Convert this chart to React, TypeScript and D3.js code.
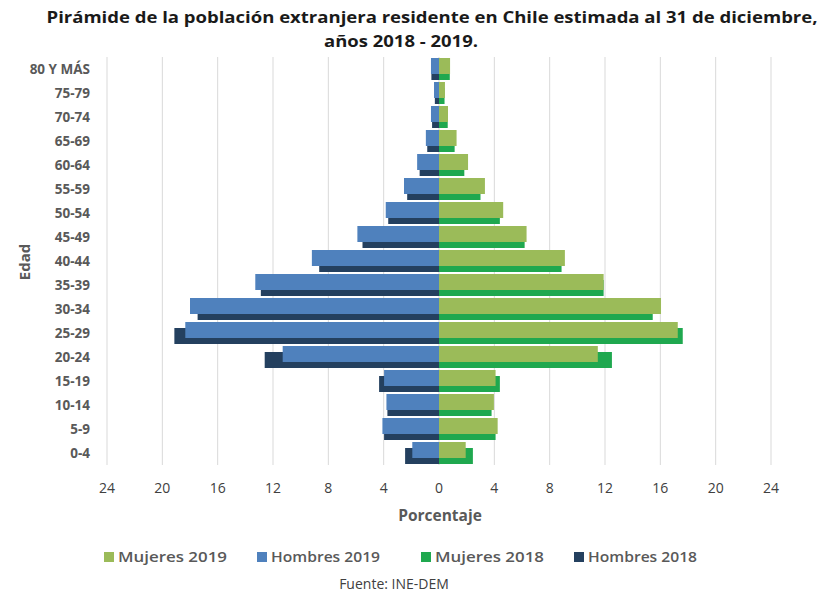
import React from "react";
import * as d3 from "d3";

const categories = ["80 Y MÁS","75-79","70-74","65-69","60-64","55-59","50-54","45-49","40-44","35-39","30-34","25-29","20-24","15-19","10-14","5-9","0-4"];
const hombres2019 = [0.58,0.36,0.58,0.95,1.58,2.53,3.85,5.9,9.19,13.28,18.0,18.34,11.3,3.97,3.8,4.09,1.93];
const hombres2018 = [0.55,0.3,0.5,0.85,1.4,2.3,3.67,5.53,8.66,12.88,17.45,19.13,12.6,4.33,3.73,3.97,2.45];
const mujeres2019 = [0.8,0.43,0.65,1.27,2.1,3.32,4.64,6.33,9.1,11.9,16.05,17.26,11.48,4.09,3.97,4.24,1.93];
const mujeres2018 = [0.78,0.4,0.63,1.13,1.83,3.0,4.4,6.19,8.86,11.9,15.45,17.62,12.5,4.4,3.8,4.09,2.45];
const ticks = [-24,-20,-16,-12,-8,-4,0,4,8,12,16,20,24];
const legendItems = [
  { label: "Mujeres 2019", color: "#9bbb59" },
  { label: "Hombres 2019", color: "#4f81bd" },
  { label: "Mujeres 2018", color: "#1fa84f" },
  { label: "Hombres 2018", color: "#24405f" },
];

const W = 825, H = 594;
const FONT = "'Open Sans', sans-serif";

export default function App() {
  const x = d3.scaleLinear().domain([-24, 24]).range([107, 771]);
  const y = d3.scaleBand().domain(categories).range([57, 465]).paddingInner(0);
  const barH = 16;
  const off2019 = 1, off2018 = 7;

  const bars: any[] = [];
  categories.forEach((c, i) => {
    const b = y(c)!;
    bars.push(<rect key={"h18"+i} x={x(-hombres2018[i])} y={b+off2018} width={x(0)-x(-hombres2018[i])} height={barH} fill="#24405f" />);
    bars.push(<rect key={"m18"+i} x={x(0)} y={b+off2018} width={x(mujeres2018[i])-x(0)} height={barH} fill="#1fa84f" />);
    bars.push(<rect key={"h19"+i} x={x(-hombres2019[i])} y={b+off2019} width={x(0)-x(-hombres2019[i])} height={barH} fill="#4f81bd" />);
    bars.push(<rect key={"m19"+i} x={x(0)} y={b+off2019} width={x(mujeres2019[i])-x(0)} height={barH} fill="#9bbb59" />);
  });

  const legendX = [104, 257, 421, 574];

  return (
    <svg width={W} height={H} style={{ position: "absolute", left: 0, top: 0, background: "#fff" }} fontFamily={FONT}>
      <rect x={0} y={0} width={W} height={H} fill="#fff" />
      <text x={432} y={23} textAnchor="middle" fontSize={15.5} fontWeight="bold" fill="#1a1a1a" textLength={771} lengthAdjust="spacingAndGlyphs">Pirámide de la población extranjera residente en Chile estimada al 31 de diciembre,</text>
      <text x={401} y={47} textAnchor="middle" fontSize={15.5} fontWeight="bold" fill="#1a1a1a" textLength={154} lengthAdjust="spacingAndGlyphs">años 2018 - 2019.</text>
      {ticks.map(t => (
        <line key={"g"+t} x1={x(t)} x2={x(t)} y1={57} y2={465} stroke="#d9d9d9" strokeWidth={1} />
      ))}
      {bars}
      {categories.map(c => (
        <text key={"l"+c} x={90} y={y(c)! + y.bandwidth()/2 + 5} textAnchor="end" fontSize={13.5} fontWeight="bold" fill="#595959">{c}</text>
      ))}
      <text transform={`translate(30,262) rotate(-90)`} textAnchor="middle" fontSize={15} fontWeight="bold" fill="#595959">Edad</text>
      {ticks.map(t => (
        <text key={"t"+t} x={x(t)} y={493} textAnchor="middle" fontSize={14} fill="#404040">{Math.abs(t)}</text>
      ))}
      <text x={440} y={521} textAnchor="middle" fontSize={15.5} fontWeight="bold" fill="#595959">Porcentaje</text>
      {legendItems.map((d, i) => (
        <g key={d.label} transform={`translate(${legendX[i]},552)`}>
          <rect x={0} y={0} width={10} height={10} fill={d.color} />
          <text x={14} y={10} fontSize={15} fontWeight="600" fill="#595959" textLength={109} lengthAdjust="spacingAndGlyphs">{d.label}</text>
        </g>
      ))}
      <text x={394} y={589} textAnchor="middle" fontSize={14} fill="#404040">Fuente: INE-DEM</text>
    </svg>
  );
}
